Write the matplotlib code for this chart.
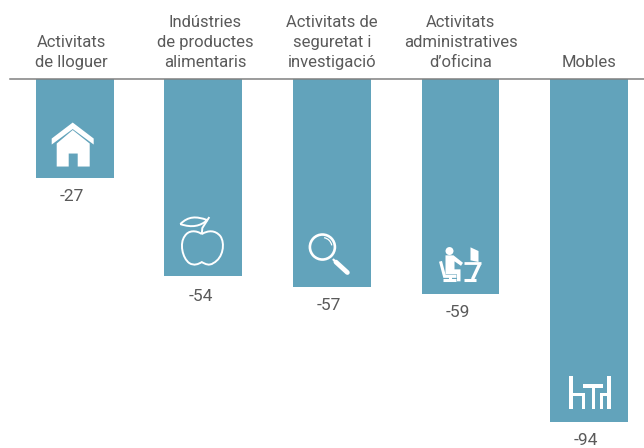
import matplotlib
matplotlib.use("Agg")
import matplotlib.pyplot as plt
from matplotlib.patches import Circle, PathPatch, Polygon, Rectangle, Arc
from matplotlib.path import Path
from matplotlib.transforms import Affine2D

# Datos del grafico
categories = [
    "Activitats\nde lloguer",
    "Indústries\nde productes\nalimentaris",
    "Activitats de\nseguretat i\ninvestigació",
    "Activitats\nadministratives\nd’oficina",
    "Mobles",
]
values = [-27, -54, -57, -59, -94]
label_gaps = [19, 20, 18, 18, 18]

BAR_COLOR = "#62A3BB"
TEXT_COLOR = "#5A5A5A"
LINE_COLOR = "#808080"
WHITE = "white"

plt.rcParams["font.family"] = ["Roboto", "DejaVu Sans"]

fig = plt.figure(figsize=(6.44, 4.48), dpi=100)
ax = fig.add_axes([0, 0, 1, 1])
ax.set_xlim(-0.5809, 4.4269)
ax.set_ylim(-101.1, 21.64)
ax.axis("off")

x = list(range(len(values)))
ax.bar(x, values, width=0.6065, color=BAR_COLOR, edgecolor="none", zorder=2)
ax.axhline(0, xmin=10 / 644, color=LINE_COLOR, lw=1.1, zorder=3)

# Etiquetas de categoria y de valor
for i, (cat, val, gap) in enumerate(zip(categories, values, label_gaps)):
    dx = -3 if i == 0 else (2 if i == 1 else 0)
    ax.annotate(cat, (i, 0), xytext=(dx, 9), textcoords="offset pixels", ha="center", va="bottom",
                ma="center", fontsize=12, linespacing=1.43, color=TEXT_COLOR)
    ax.annotate(str(val), (i, val), xytext=(-3 if i != 1 else -2, -gap), textcoords="offset pixels",
                ha="center", va="center", fontsize=12.5, color=TEXT_COLOR)


def anchor(i):
    # Coordenadas de icono en pixeles, origen en el centro inferior de la barra
    px, py = ax.transData.transform((i, values[i]))
    return Affine2D().translate(px, py)


def poly(tr, pts):
    ax.add_patch(Polygon(pts, closed=True, facecolor=WHITE, edgecolor="none", transform=tr, zorder=4))


def line(tr, pts, lw=2.0, cap="butt"):
    ax.plot([p[0] for p in pts], [p[1] for p in pts], color=WHITE, lw=lw, transform=tr, zorder=4,
            solid_capstyle=cap, solid_joinstyle="miter")


# Casa
tr = anchor(0)
poly(tr, [(-2, 55), (19, 39), (19, 33), (-2, 48.5), (-23, 33), (-23, 39)])
poly(tr, [(-2, 47.5), (15, 34), (15, 11), (3, 11), (3, 24), (-6, 24), (-6, 11), (-18, 11), (-18, 34)])

# Manzana
tr = anchor(1)
verts = [(-1.5, 42), (-7, 46), (-15, 46), (-18.5, 40), (-24, 33), (-21, 18), (-14, 13),
         (-9, 10), (-5, 12), (-1.5, 14), (2, 12), (6, 10), (10, 13),
         (20, 18), (22, 33), (17, 40), (12, 46), (5, 46), (-1.5, 42)]
codes = [Path.MOVETO] + [Path.CURVE4] * 18
ax.add_patch(PathPatch(Path(verts, codes), facecolor="none", edgecolor=WHITE, lw=1.4, transform=tr, zorder=4))
line(tr, [(-1.5, 42), (-1, 48), (6, 59)], lw=1.4)
leaf = Path([(-23, 52), (-15, 60), (-7, 60), (4, 56), (-3, 50), (-11, 48), (-23, 52)],
            [Path.MOVETO] + [Path.CURVE4] * 6)
ax.add_patch(PathPatch(leaf, facecolor="none", edgecolor=WHITE, lw=1.4, transform=tr, zorder=4))

# Lupa
tr = anchor(2)
ax.add_patch(Circle((-9.5, 40), 12.5, facecolor="none", edgecolor=WHITE, lw=1.9, transform=tr, zorder=4))
ax.add_patch(Arc((-9.5, 40), 19, 19, theta1=10, theta2=80, edgecolor=WHITE, lw=0.9, transform=tr, zorder=4))
line(tr, [(1, 28), (4, 25)], lw=1.6)
line(tr, [(4, 25), (15.5, 14.5)], lw=3.4, cap="round")

# Persona en el escritorio
tr = anchor(3)
ax.add_patch(Circle((-11, 43.3), 4, facecolor=WHITE, edgecolor="none", transform=tr, zorder=4))
poly(tr, [(-15, 39), (-7, 39), (2.5, 31.5), (0.5, 28.5), (-6, 33), (-6, 25), (0, 25), (0, 13),
          (-3.5, 13), (-3.5, 20), (-15, 20)])
line(tr, [(-20, 33), (-16, 18), (-4, 18)], lw=2.2)
line(tr, [(-11, 18), (-11, 14)], lw=2.2)
line(tr, [(-18, 14), (-5, 14)], lw=2.2)
poly(tr, [(10, 47), (18, 43.3), (18, 32.3), (10, 34)])
line(tr, [(3, 31), (20, 31)], lw=2.0)
line(tr, [(19, 30), (12, 15)], lw=2.4)
line(tr, [(3, 14), (15, 14)], lw=2.2)

# Mesa y sillas
tr = anchor(4)
for x0, x1, y0, y1 in [(-19.7, -15.7, 13, 46), (-15.7, -4, 26, 29.3), (-7.3, -4, 13, 26),
                       (-6, 14, 34, 38), (2.7, 6, 13, 34),
                       (11, 18.3, 26, 29.3), (11, 14.3, 13, 26), (18.3, 22, 13, 46)]:
    ax.add_patch(Rectangle((x0, y0), x1 - x0, y1 - y0, facecolor=WHITE, edgecolor="none", transform=tr, zorder=4))

fig.savefig("out.png", dpi=100)
plt.close(fig)
